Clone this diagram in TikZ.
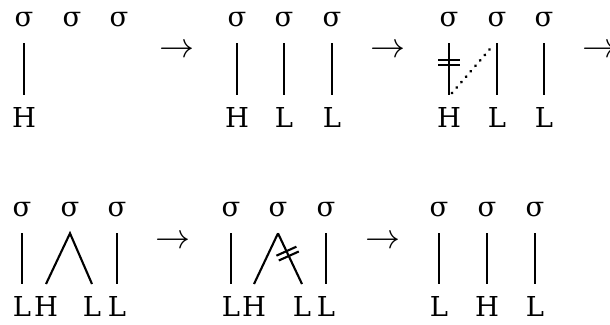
\documentclass[tikz,border=0pt]{standalone}
\usepackage{fontspec}
\setmainfont{DejaVu Serif}

\begin{document}
\begin{tikzpicture}[
  x=0.025cm, y=-0.025cm,
  every node/.style={font=\fontsize{19.5}{23}\selectfont},
  syl node/.style={inner sep=0pt,outer ysep=0.4cm},
  tone node/.style={inner sep=0pt,outer ysep=0.3cm},
  step arrow/.style={inner sep=0pt,font=\fontsize{24}{28}\selectfont},
  every path/.style={line width=1.5pt},
  assoc/.style={draw=black},
  delinked/.style={draw=black,line cap=round,dash pattern=on 0.1pt off 5pt,line width=2.2pt},
]
\useasboundingbox (0,0) rectangle (610,324);
% panel 1
\node[syl node] (s11) at (24,20) {σ};
\node[syl node] (s12) at (72,20) {σ};
\node[syl node] (s13) at (119,20) {σ};
\node[tone node] (t11) at (24,117) {H};
\draw[assoc] (s11.south) -- (t11.north);
\node[step arrow] (a1) at (177,51) {$\rightarrow$};
% panel 2
\node[syl node] (s21) at (237,20) {σ};
\node[syl node] (s22) at (284,20) {σ};
\node[syl node] (s23) at (332,20) {σ};
\node[tone node] (t21) at (237,117) {H};
\node[tone node] (t22) at (284,117) {L};
\node[tone node] (t23) at (332,117) {L};
\draw[assoc] (s21.south) -- (t21.north);
\draw[assoc] (s22.south) -- (t22.north);
\draw[assoc] (s23.south) -- (t23.north);
\node[step arrow] (a2) at (388,51) {$\rightarrow$};
% panel 3
\node[syl node] (s31) at (449,20) {σ};
\node[syl node] (s32) at (497,20) {σ};
\node[syl node] (s33) at (544,20) {σ};
\node[tone node] (t31) at (449,117) {H};
\node[tone node] (t32) at (497,117) {L};
\node[tone node] (t33) at (544,117) {L};
\draw[assoc] (s31.south) -- node[coordinate,pos=0.375] (cut3) {} (t31.north);
\draw[assoc] ([shift={(-11,-2.5)}]cut3) -- ++(22,0);
\draw[assoc] ([shift={(-11,2.5)}]cut3) -- ++(22,0);
\draw[assoc] (s32.south) -- (t32.north);
\draw[assoc] (s33.south) -- (t33.north);
\draw[delinked] ([shift={(3,-2)}]t31.north) -- ([shift={(-3,1)}]s32.south);
\node[step arrow] (a3) at (600,51) {$\rightarrow$};
% panel 4
\node[syl node] (s41) at (22,210) {σ};
\node[syl node] (s42) at (70,210) {σ};
\node[syl node] (s43) at (117,210) {σ};
\node[tone node] (t41) at (22,306) {L};
\node[tone node] (t42) at (46,306) {H};
\node[tone node] (t43) at (92,306) {L};
\node[tone node] (t44) at (117,306) {L};
\draw[assoc] (s41.south) -- (t41.north);
\draw[assoc] (t42.north) -- (s42.south) -- (t43.north);
\draw[assoc] (s43.south) -- (t44.north);
\node[step arrow] (a4) at (173,242) {$\rightarrow$};
% panel 5
\node[syl node] (s51) at (231,210) {σ};
\node[syl node] (s52) at (278,210) {σ};
\node[syl node] (s53) at (326,210) {σ};
\node[tone node] (t51) at (231,306) {L};
\node[tone node] (t52) at (254,306) {H};
\node[tone node] (t53) at (302,306) {L};
\node[tone node] (t54) at (326,306) {L};
\draw[assoc] (s51.south) -- (t51.north);
\draw[assoc] (t52.north) -- (s52.south);
\draw[assoc] (s52.south) -- node[coordinate,pos=0.4] (cut5) {} (t53.north);
\draw[assoc] ([shift={(-11.2,2.1)}]cut5) -- ++(20,-9);
\draw[assoc] ([shift={(-8.8,6.9)}]cut5) -- ++(20,-9);
\draw[assoc] (s53.south) -- (t54.north);
\node[step arrow] (a5) at (383,242) {$\rightarrow$};
% panel 6
\node[syl node] (s61) at (439,210) {σ};
\node[syl node] (s62) at (487,210) {σ};
\node[syl node] (s63) at (535,210) {σ};
\node[tone node] (t61) at (439,306) {L};
\node[tone node] (t62) at (487,306) {H};
\node[tone node] (t63) at (535,306) {L};
\draw[assoc] (s61.south) -- (t61.north);
\draw[assoc] (s62.south) -- (t62.north);
\draw[assoc] (s63.south) -- (t63.north);
\end{tikzpicture}
\end{document}
